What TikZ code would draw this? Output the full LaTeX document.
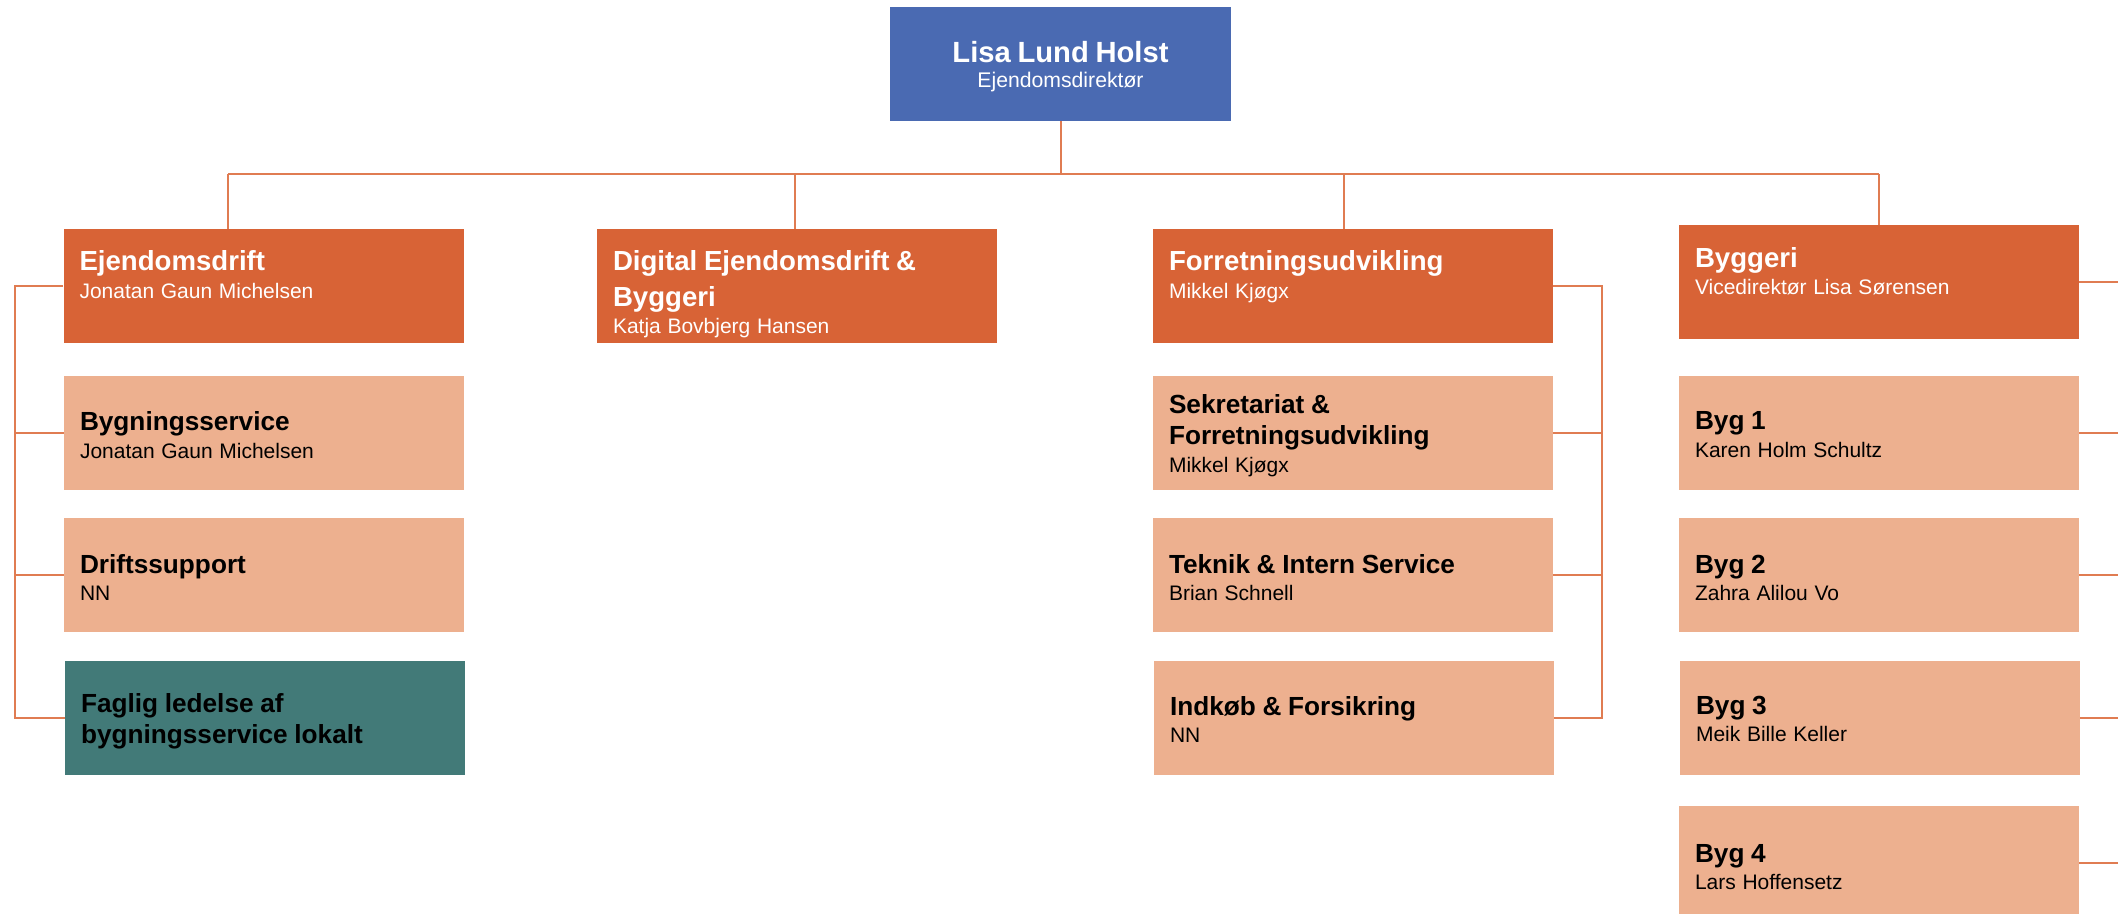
\documentclass[tikz,border=0pt]{standalone}
\usepackage{fontspec}
\setmainfont{Liberation Sans}
\definecolor{topblue}{HTML}{4A6AB2}
\definecolor{dorange}{HTML}{D86336}
\definecolor{lorange}{HTML}{EDB08F}
\definecolor{teal}{HTML}{427A78}
\definecolor{linec}{HTML}{E07C52}
\newcommand\ttlw[1]{{\fontsize{13.8}{17.5}\selectfont\bfseries #1\par}}
\newcommand\ttlb[1]{{\fontsize{13.1}{15.5}\selectfont\bfseries #1\par}}
\newcommand\nmline[1]{{\fontsize{10.5}{13.75}\selectfont #1\par}}
\tikzset{
  box/.style={rectangle, inner xsep=8pt, inner ysep=0pt, minimum width=200pt,
    minimum height=57pt, text width=184pt, align=left},
  dark/.style={box, fill=dorange, text=white, text height=21pt, text depth=36pt},
  light/.style={box, fill=lorange, text=black, text height=27.5pt, text depth=29.5pt},
  tealbox/.style={box, fill=teal, text=black, text height=25.5pt, text depth=31.5pt},
  topbox/.style={rectangle, fill=topblue, text=white, inner xsep=5pt, inner ysep=0pt,
    minimum width=170.5pt, minimum height=57pt, text width=160.5pt, align=center,
    text height=28pt, text depth=29pt},
  conn/.style={draw=linec, line width=1pt}
}
\begin{document}
\begin{tikzpicture}[x=0.5pt,y=-0.5pt]
\useasboundingbox (0,0) rectangle (2118,914);
\clip (0,0) rectangle (2118,914);
% top
\node[topbox] (top) at (1060.5,64) {{\fontsize{14.6}{12.5}\selectfont\bfseries Lisa Lund Holst\par}{\fontsize{10.6}{12.5}\selectfont Ejendomsdirekt\o r\par}};
% column 1
\node[dark] (ed) at (263.5,286) {\ttlw{Ejendomsdrift}\nmline{Jonatan Gaun Michelsen}};
\node[light] (bs) at (264,432.5) {\ttlb{Bygningsservice}\nmline{Jonatan Gaun Michelsen}};
\node[light] (ds) at (264,575) {\ttlb{Driftssupport}\nmline{NN}};
\node[tealbox] (fl) at (265,718) {\ttlb{Faglig ledelse af\\bygningsservice lokalt}};
% column 2
\node[dark] (dig) at (797,286) {\ttlw{Digital Ejendomsdrift \&\\Byggeri}\nmline{Katja Bovbjerg Hansen}};
% column 3
\node[dark] (fu) at (1353,286) {\ttlw{Forretningsudvikling}\nmline{Mikkel Kj\o gx}};
\node[light, text height=19pt, text depth=38pt] (sek) at (1353,432.5) {\ttlb{Sekretariat \&\\Forretningsudvikling}\nmline{Mikkel Kj\o gx}};
\node[light] (tek) at (1353,575) {\ttlb{Teknik \& Intern Service}\nmline{Brian Schnell}};
\node[light, text height=27pt, text depth=30pt] (ind) at (1354,718) {\ttlb{Indk\o b \& Forsikring}\nmline{NN}};
% column 4
\node[dark] (byg) at (1879,282.5) {\ttlw{Byggeri}\nmline{Vicedirekt\o r Lisa S\o rensen}};
\node[light, text height=27pt, text depth=30pt] (b1) at (1879,432.5) {\ttlb{Byg 1}\nmline{Karen Holm Schultz}};
\node[light] (b2) at (1879,575) {\ttlb{Byg 2}\nmline{Zahra Alilou Vo}};
\node[light, text height=26.5pt, text depth=30.5pt] (b3) at (1880,718) {\ttlb{Byg 3}\nmline{Meik Bille Keller}};
\node[light, text height=28pt, text depth=29pt] (b4) at (1879,863) {\ttlb{Byg 4}\nmline{Lars Hoffensetz}};
% bus
\coordinate (bA) at (228,174);
\coordinate (bB) at (795,174);
\coordinate (bC) at (1344,174);
\coordinate (bD) at (1879,174);
\draw[conn] (top.south) -- (top.south |- bA);
\draw[conn] (bA) -- (bD);
\draw[conn] (bA) -- (bA |- ed.north);
\draw[conn] (bB) -- (bB |- dig.north);
\draw[conn] (bC) -- (bC |- fu.north);
\draw[conn] (bD) -- (bD |- byg.north);
% left group
\coordinate (L) at (15,0);
\draw[conn] (ed.west) -- (ed.west -| L) -- (fl.west -| L) -- (fl.west);
\draw[conn] (bs.west) -- (bs.west -| L);
\draw[conn] (ds.west) -- (ds.west -| L);
% right group of Forretningsudvikling
\coordinate (R) at (1602,0);
\draw[conn] (fu.east) -- (fu.east -| R) -- (ind.east -| R) -- (ind.east);
\draw[conn] (sek.east) -- (sek.east -| R);
\draw[conn] (tek.east) -- (tek.east -| R);
% right group of Byggeri (beyond the edge)
\coordinate (R2) at (2140,0);
\draw[conn] (byg.east) -- (byg.east -| R2) -- (b4.east -| R2) -- (b4.east);
\draw[conn] (b1.east) -- (b1.east -| R2);
\draw[conn] (b2.east) -- (b2.east -| R2);
\draw[conn] (b3.east) -- (b3.east -| R2);
\end{tikzpicture}
\end{document}
